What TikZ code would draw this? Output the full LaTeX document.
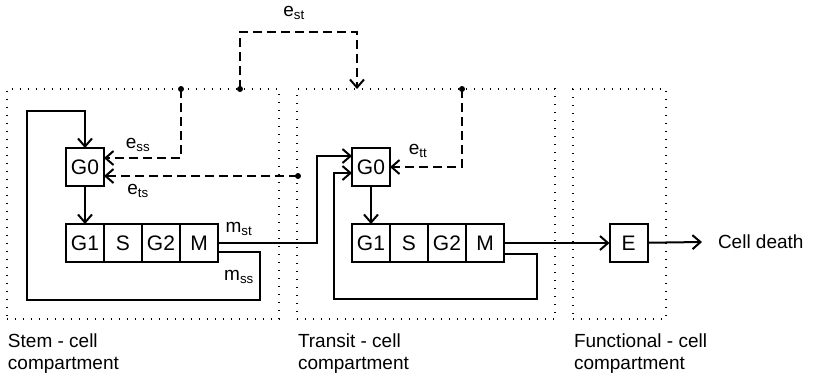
\documentclass[tikz,border=0pt]{standalone}
\usepackage{fontspec}
\setmainfont{Liberation Sans}
\usetikzlibrary{arrows.meta,positioning}

\begin{document}
\begin{tikzpicture}[
    x=1pt,
    y=-1pt,
    font=\fontsize{19}{22}\selectfont,
    line width=2pt,
    cell/.style={draw, outer sep=0pt, inner sep=0pt, minimum width=38pt, minimum height=38pt, font=\fontsize{21}{24}\selectfont},
    zone/.style={draw, line width=1.4pt, dash pattern=on 1.4pt off 6.6pt, inner sep=0pt},
    flow/.style={-{Straight Barb[length=8pt,width=14pt,line width=2pt]}},
    signal/.style={flow, dash pattern=on 9pt off 5pt},
    junction/.style={circle, fill, inner sep=0pt, minimum size=6pt},
    caption/.style={anchor=north west, align=left, inner sep=0pt}
  ]
    \useasboundingbox (0,0) rectangle (831,376);

    % compartments
    \node[zone, minimum width=272pt, minimum height=230pt] (stem) at (143,204) {};
    \node[zone, minimum width=258pt, minimum height=230pt] (transit) at (426,204) {};
    \node[zone, minimum width=93pt, minimum height=230pt] (functional) at (619.5,204) {};
    \node[caption] (stemcap) at (7,333) {Stem - cell\\compartment};
    \node[caption] (transitcap) at (297,333) {Transit - cell\\compartment};
    \node[caption] (functionalcap) at (573,333) {Functional - cell\\compartment};

    % stem-cell cycle
    \node[cell] (g0s) at (85,167) {G0};
    \node[cell] (g1s) at (85,243) {G1};
    \node[cell, right=0pt of g1s] (ss) {S};
    \node[cell, right=0pt of ss] (g2s) {G2};
    \node[cell, right=0pt of g2s] (ms) {M};

    % transit-cell cycle
    \node[cell] (g0t) at (371,167) {G0};
    \node[cell] (g1t) at (371,243) {G1};
    \node[cell, right=0pt of g1t] (st) {S};
    \node[cell, right=0pt of st] (g2t) {G2};
    \node[cell, right=0pt of g2t] (mt) {M};

    % functional cells
    \node[cell] (e) at (628.5,243) {E};
    \node[anchor=west, inner sep=0pt, inner xsep=15pt] (death) at (702,242) {Cell death};

    % bends
    \coordinate (ssloop) at (260,300);
    \coordinate (ssback) at (27,111);
    \coordinate (stbend) at (317,156);
    \coordinate (ttloop) at (537,299);
    \coordinate (ttback) at (334,173);
    \coordinate (estbend) at (357,32);
    \coordinate (esttop) at (357,89);

    % feedback junctions
    \node[junction] (jss) at (181,89) {};
    \node[junction] (jst) at (240,89) {};
    \node[junction] (jts) at (298,176) {};
    \node[junction] (jtt) at (462,89) {};

    % cell flow
    \draw[flow] (g0s) -- (g1s);
    \draw[flow] ([yshift=-9pt]ms.east) -| (ssloop) -| (ssback) -| (g0s.north);
    \draw[flow] (ms.east) -| (stbend) -- ([yshift=11pt]g0t.west);
    \draw[flow] (g0t) -- (g1t);
    \draw[flow] ([yshift=-11pt]mt.east) -| (ttloop) -| (ttback) -- ([yshift=-6pt]g0t.west);
    \draw[flow] (mt.east) -- (e.west);
    \draw[flow] (e) -- (death.west);

    % feedback signals
    \draw[signal] (jst.center) |- (estbend) -- (esttop);
    \draw[signal] (jss.center) |- ([yshift=9pt]g0s.east);
    \draw[signal] (jts.center) -- ([yshift=-9pt]g0s.east);
    \draw[signal] (jtt.center) |- (g0t.east);

    % labels
    \node (est) at (294,13) {e\textsubscript{st}};
    \node (ess) at (138,145) {e\textsubscript{ss}};
    \node (ets) at (138,191) {e\textsubscript{ts}};
    \node (ett) at (418,151) {e\textsubscript{tt}};
    \node (mst) at (239,229) {m\textsubscript{st}};
    \node (mss) at (239,277) {m\textsubscript{ss}};
  \end{tikzpicture}
\end{document}
